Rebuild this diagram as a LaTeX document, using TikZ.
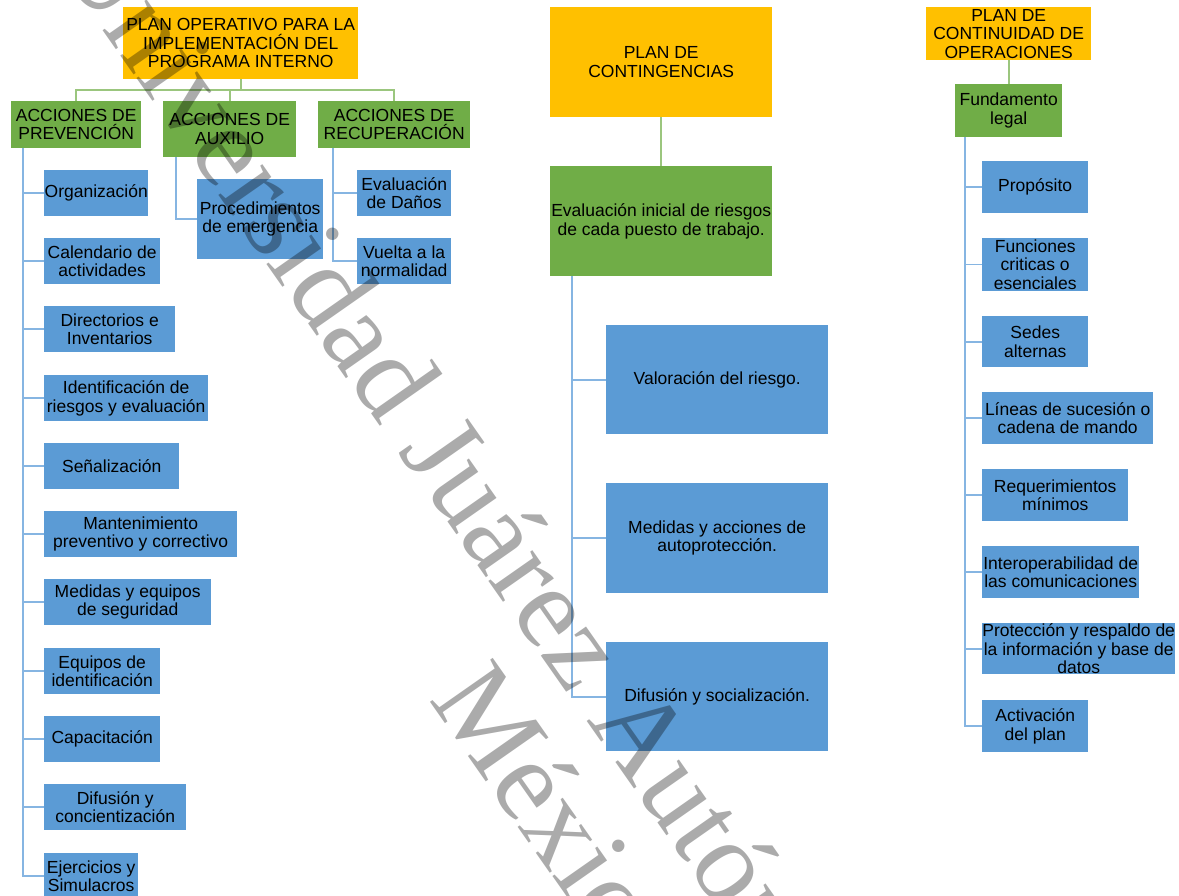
\documentclass[tikz,border=0pt]{standalone}
\usepackage{fontspec}
\setmainfont{Liberation Sans}
\newfontfamily\wmfont{Liberation Serif}
\definecolor{planor}{HTML}{FFC000}
\definecolor{grpgreen}{HTML}{70AD47}
\definecolor{itemblue}{HTML}{5B9BD5}
\definecolor{lgreen}{HTML}{9BC67E}
\definecolor{lblue}{HTML}{86B5E2}

\begin{document}
\begin{tikzpicture}[x=1pt,y=-1pt,
    box/.style={inner sep=0pt, anchor=north west, align=center, font=\fontsize{17.5}{18.5}\selectfont},
    planbox/.style={box, fill=planor},
    grpbox/.style={box, fill=grpgreen},
    itembox/.style={box, fill=itemblue},
    grnline/.style={lgreen, line width=2pt},
    bluline/.style={lblue, line width=1.6pt},
    wm/.style={inner sep=0pt, anchor=base west, rotate=-55, text=black, text opacity=0.33,
      font=\wmfont\fontsize{117}{117}\selectfont}]

  \useasboundingbox (0,0) rectangle (1179,896);

  % plan operativo
  \node[planbox, minimum width=235, minimum height=72] (plan) at (123,7) {PLAN OPERATIVO PARA LA\\IMPLEMENTACIÓN DEL\\PROGRAMA INTERNO};
  \node[grpbox, minimum width=130, minimum height=47] (prev) at (11,101) {ACCIONES DE\\PREVENCIÓN};
  \node[grpbox, minimum width=133, minimum height=56] (aux) at (163,101) {ACCIONES DE\\AUXILIO};
  \node[grpbox, minimum width=152, minimum height=47] (recu) at (318,101) {ACCIONES DE\\RECUPERACIÓN};

  \node[itembox, minimum width=104, minimum height=46] (org) at (44,170) {Organización};
  \node[itembox, minimum width=116, minimum height=46] (cal) at (44,238) {Calendario de\\actividades};
  \node[itembox, minimum width=131, minimum height=46] (dir) at (44,306) {Directorios e\\Inventarios};
  \node[itembox, minimum width=164, minimum height=46] (ide) at (44,375) {Identificación de\\riesgos y evaluación};
  \node[itembox, minimum width=135, minimum height=46] (sen) at (44,443) {Señalización};
  \node[itembox, minimum width=193, minimum height=46] (man) at (44,511) {Mantenimiento\\preventivo y correctivo};
  \node[itembox, minimum width=167, minimum height=46] (med) at (44,579) {Medidas y equipos\\de seguridad};
  \node[itembox, minimum width=116, minimum height=46] (equ) at (44,648) {Equipos de\\identificación};
  \node[itembox, minimum width=116, minimum height=46] (cap) at (44,716) {Capacitación};
  \node[itembox, minimum width=142, minimum height=46] (dif) at (44,784) {Difusión y\\concientización};
  \node[itembox, minimum width=94, minimum height=46] (eje) at (44,853) {Ejercicios y\\Simulacros};

  \node[itembox, minimum width=126, minimum height=80] (proc) at (197,179) {Procedimientos\\de emergencia};
  \node[itembox, minimum width=94, minimum height=46] (evd) at (357,170) {Evaluación\\de Daños};
  \node[itembox, minimum width=94, minimum height=46] (vue) at (357,238) {Vuelta a la\\normalidad};

  \foreach \c in {prev,aux,recu}
    \draw[grnline] (plan.south) -- ++(0,11) -| (\c.north);
  \foreach \c in {org,cal,dir,ide,sen,man,med,equ,cap,dif,eje}
    \draw[bluline] ([xshift=12pt]prev.south west) |- (\c.west);
  \draw[bluline] ([xshift=13pt]aux.south west) |- (proc.west);
  \foreach \c in {evd,vue}
    \draw[bluline] ([xshift=15pt]recu.south west) |- (\c.west);

  % plan de contingencias
  \node[planbox, minimum width=222, minimum height=110] (cont) at (550,7) {PLAN DE\\CONTINGENCIAS};
  \node[grpbox, minimum width=222, minimum height=110] (eval) at (550,166) {Evaluación inicial de riesgos\\de cada puesto de trabajo.};
  \node[itembox, minimum width=222, minimum height=109] (val) at (606,325) {Valoración del riesgo.};
  \node[itembox, minimum width=222, minimum height=110] (mea) at (606,483) {Medidas y acciones de\\autoprotección.};
  \node[itembox, minimum width=222, minimum height=109] (dsc) at (606,642) {Difusión y socialización.};

  \draw[grnline] (cont.south) -- (eval.north);
  \foreach \c in {val,mea,dsc}
    \draw[bluline] ([xshift=22pt]eval.south west) |- (\c.west);

  % plan de continuidad
  \node[planbox, minimum width=165, minimum height=53] (conti) at (926,7) {PLAN DE\\CONTINUIDAD DE\\OPERACIONES};
  \node[grpbox, minimum width=107, minimum height=53] (fund) at (955,84) {Fundamento\\legal};
  \node[itembox, minimum width=106, minimum height=52] (prp) at (982,161) {Propósito};
  \node[itembox, minimum width=106, minimum height=53] (fun) at (982,238) {Funciones\\criticas o\\esenciales};
  \node[itembox, minimum width=106, minimum height=51] (sed) at (982,316) {Sedes\\alternas};
  \node[itembox, minimum width=171, minimum height=52] (lin) at (982,392) {Líneas de sucesión o\\cadena de mando};
  \node[itembox, minimum width=146, minimum height=52] (req) at (982,469) {Requerimientos\\mínimos};
  \node[itembox, minimum width=157, minimum height=52] (int) at (982,546) {Interoperabilidad de\\las comunicaciones};
  \node[itembox, minimum width=193, minimum height=51] (pro) at (982,623) {Protección y respaldo de\\la información y base de\\datos};
  \node[itembox, minimum width=106, minimum height=52] (act) at (982,700) {Activación\\del plan};

  \draw[grnline] (conti.south) -- (fund.north);
  \foreach \c in {prp,fun,sed,lin,req,int,pro,act}
    \draw[bluline] ([xshift=10pt]fund.south west) |- (\c.west);

  % marca de agua
  \begin{scope}
    \clip (0,0) rectangle (1179,896);
    \node[wm] (wma) at (53,-41) {Universidad Juárez Autónoma};
    \node[wm] (wmb) at (428,699) {México};
  \end{scope}
\end{tikzpicture}
\end{document}
